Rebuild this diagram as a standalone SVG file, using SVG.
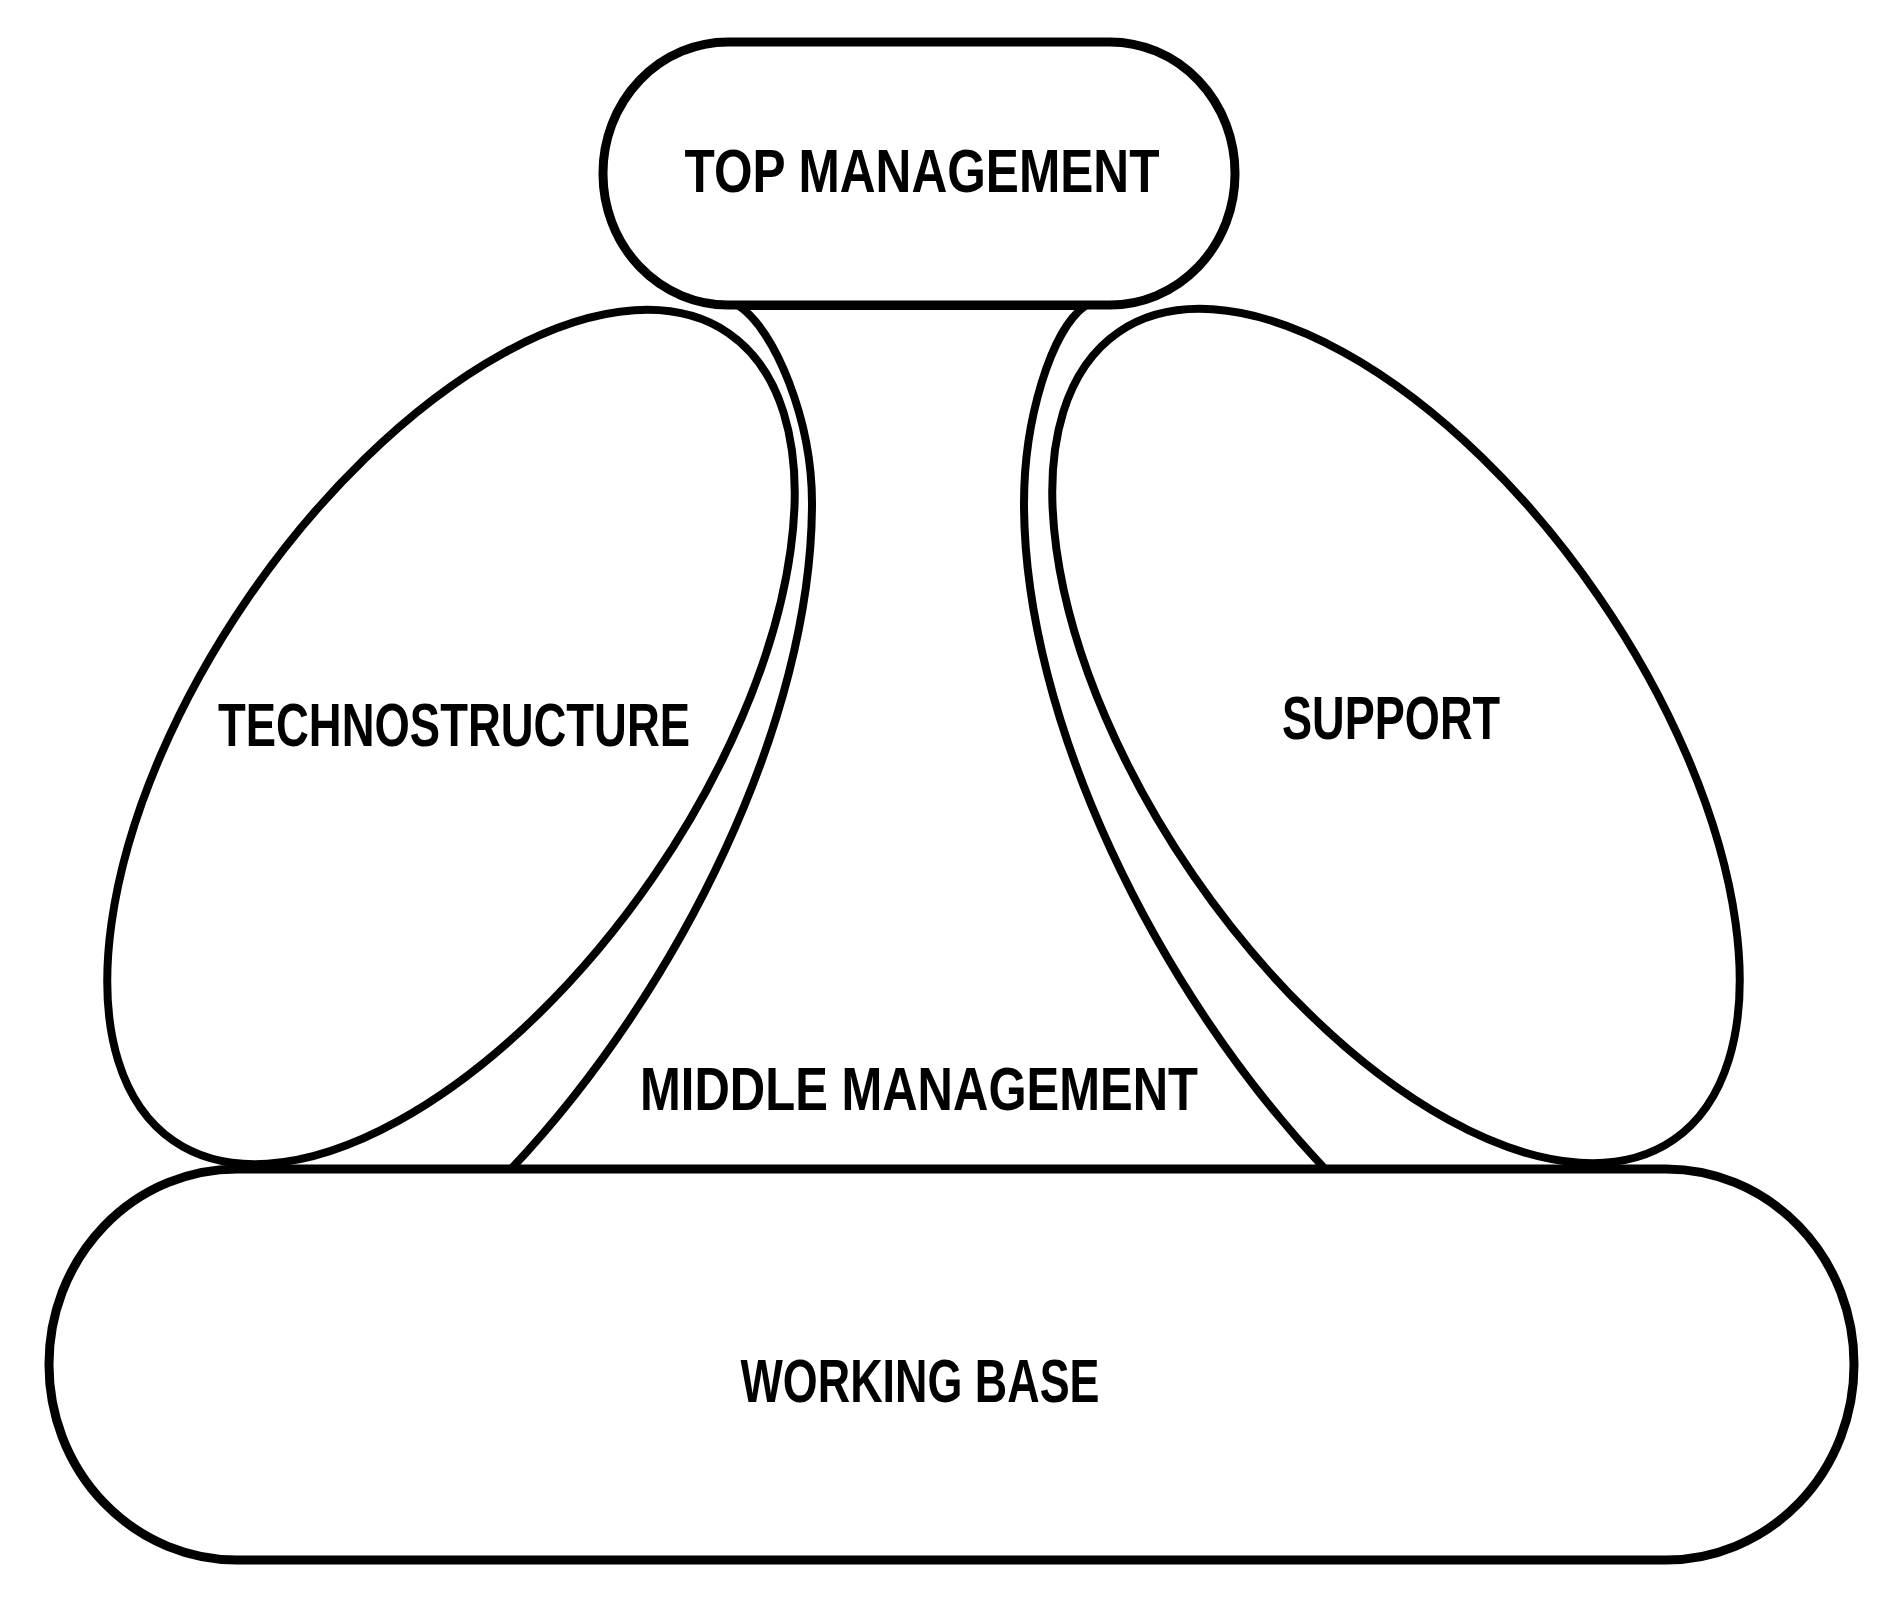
<svg xmlns="http://www.w3.org/2000/svg" width="1896" height="1608" viewBox="0 0 1896 1608">
  <style>
    .shape { fill: #ffffff; stroke: #000000; stroke-width: 9; }
    .thin { stroke-width: 8; }
    .label { font-family: "Liberation Sans", Arial, sans-serif; font-weight: bold; font-size: 62px; fill: #000000; text-anchor: middle; }
  </style>
  <rect x="0" y="0" width="1896" height="1608" fill="#ffffff"/>
  <g id="connectors"/>
  <g id="middle-management">
    <path class="shape thin" d="M739,306 C775,330 812,420 812,503 C812,720 680,990 511,1169 L1325,1169 C1156,990 1024,720 1024,503 C1024,420 1051,330 1085,306 Z"/>
    <text class="label" x="919" y="1110" textLength="558" lengthAdjust="spacingAndGlyphs">MIDDLE MANAGEMENT</text>
  </g>
  <g id="technostructure">
    <ellipse class="shape thin" cx="451" cy="737" rx="490" ry="246" transform="rotate(-55.5 451 737)"/>
    <text class="label" x="454" y="746" textLength="472" lengthAdjust="spacingAndGlyphs">TECHNOSTRUCTURE</text>
  </g>
  <g id="support">
    <ellipse class="shape thin" cx="1396" cy="736" rx="490" ry="246" transform="rotate(55.5 1396 736)"/>
    <text class="label" x="1391" y="739" textLength="218" lengthAdjust="spacingAndGlyphs">SUPPORT</text>
  </g>
  <g id="top-management">
    <rect class="shape" x="603" y="42" width="632" height="263" rx="125" ry="131"/>
    <text class="label" x="922" y="192" textLength="475" lengthAdjust="spacingAndGlyphs">TOP MANAGEMENT</text>
  </g>
  <g id="working-base">
    <rect class="shape" x="49" y="1169" width="1805" height="391" rx="188" ry="195"/>
    <text class="label" x="920" y="1402" textLength="359" lengthAdjust="spacingAndGlyphs">WORKING BASE</text>
  </g>
</svg>
